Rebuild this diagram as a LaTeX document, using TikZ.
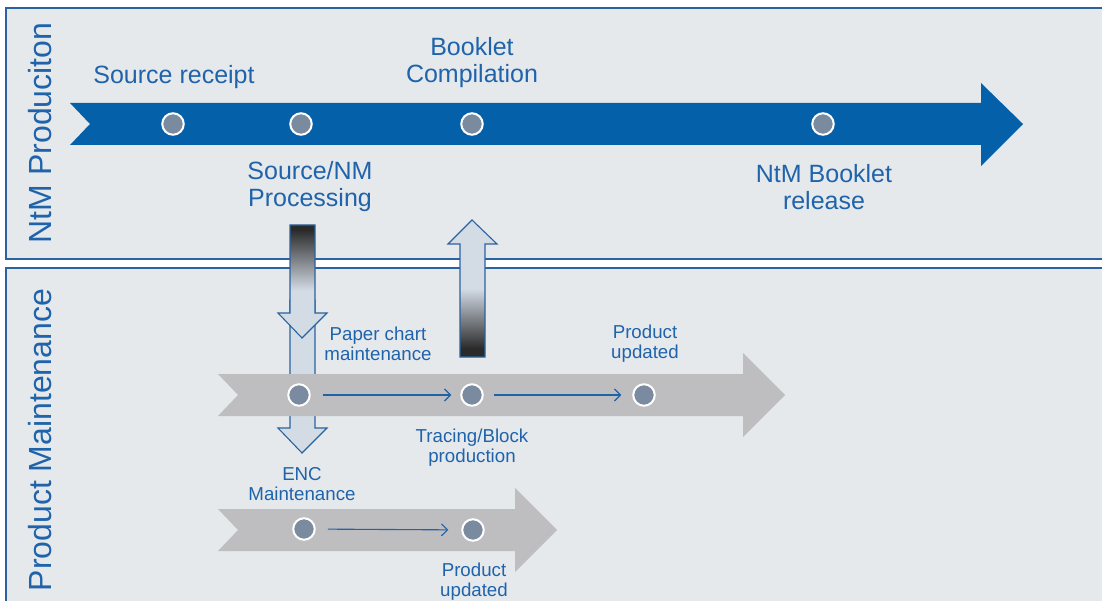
\documentclass[tikz,border=0pt]{standalone}
\usepackage{fontspec}
\setmainfont{Liberation Sans}
\usetikzlibrary{arrows.meta, positioning}
\definecolor{ntmblue}{HTML}{0560AA}
\definecolor{txtblue}{HTML}{1F63AB}
\definecolor{panelfill}{HTML}{E6E9EC}
\definecolor{panelline}{HTML}{2A63A0}
\definecolor{bandgray}{HTML}{BEBEC1}
\definecolor{dotgray}{HTML}{7A8BA0}
\definecolor{paleblue}{HTML}{D3DBE5}
\definecolor{darkshade}{HTML}{2A2A2A}
\pgfdeclareverticalshading{fadedown}{100bp}{color(0bp)=(paleblue); color(46bp)=(paleblue); color(73bp)=(darkshade); color(100bp)=(darkshade)}
\pgfdeclareverticalshading{fadeup}{100bp}{color(0bp)=(darkshade); color(28bp)=(darkshade); color(50bp)=(paleblue); color(100bp)=(paleblue)}
\begin{document}
\begin{tikzpicture}[x=1pt, y=-1pt,
        every node/.style={text=txtblue, align=center},
        big/.style={font=\fontsize{25}{27}\selectfont},
        small/.style={font=\fontsize{18.7}{20}\selectfont},
        lane/.style={font=\fontsize{32}{34}\selectfont, rotate=90},
        panel/.style={fill=panelfill, draw=panelline, line width=1.2pt},
        stop/.style={circle, fill=dotgray, draw=white, line width=2pt, minimum size=21.5pt, inner sep=0pt},
        flow/.style={draw=txtblue, line width=1.1pt, -{Straight Barb[length=6pt,width=12pt]}},
        hollow/.style={draw=panelline, line width=1.1pt}
      ]
      \clip (0,0) rectangle (1102,601);
      \fill[white] (0,0) rectangle (1102,601);

      % Swim lanes
      \draw[panel] (6,8) rectangle (1120,259);
      \draw[panel] (6,268) rectangle (1120,620);
      \node[lane] (lanetop) at (40,133) {NtM Produciton};
      \node[lane] (lanebot) at (40,440) {Product Maintenance};

      % NtM production arrow
      \fill[ntmblue] (70,103) -- (981,103) -- (981,83) -- (1023,124) -- (981,166)
        -- (981,145) -- (70,145) -- (90,124) -- cycle;
      \node[stop] (receipt) at (173,124) {};
      \node[stop] (process) at (301,124) {};
      \node[stop] (compile) at (472,124) {};
      \node[stop] (release) at (823,124) {};
      \node[big] at (174,77) {Source receipt};
      \node[big] at (472,63) {Booklet\\Compilation};
      \node[big] at (310,187) {Source/NM\\Processing};
      \node[big] at (824,187) {NtM Booklet\\release};

      % hand-over arrows between lanes
      \draw[hollow, fill=paleblue] (290,300) -- (315,300) -- (315,428) -- (327,428)
        -- (302,453) -- (278,428) -- (290,428) -- cycle;
      \draw[hollow, shading=fadedown] (290,225) -- (315,225) -- (315,313) -- (327,313)
        -- (302,338) -- (278,313) -- (290,313) -- cycle;
      \draw[hollow, shading=fadeup] (472,220) -- (497,244) -- (485,244) -- (485,357)
        -- (460,357) -- (460,244) -- (448,244) -- cycle;

      % Paper chart band
      \fill[bandgray] (218,374) -- (743,374) -- (743,353) -- (785,395) -- (743,437)
        -- (743,416) -- (218,416) -- (238,395) -- cycle;
      \node[stop] (paper) at (299,395) {};
      \node[stop] (tracing) at (472,395) {};
      \node[stop] (updated) at (644,395) {};
      \draw[flow, shorten <=12pt, shorten >=9pt] (paper) -- (tracing);
      \draw[flow, shorten <=10pt, shorten >=11pt] (tracing) -- (updated);
      \node[small] at (378,344) {Paper chart\\maintenance};
      \node[small] at (645,344) {Product\\updated};
      \node[small] at (472,448) {Tracing/Block\\production};

      % ENC band
      \fill[bandgray] (218,509) -- (515,509) -- (515,488) -- (557,530) -- (515,572)
        -- (515,551) -- (218,551) -- (238,530) -- cycle;
      \node[stop] (enc) at (304,529) {};
      \node[stop] (encdone) at (473,530) {};
      \draw[flow, shorten <=12pt, shorten >=13pt] (enc) -- (encdone);
      \node[small] at (302,484) {ENC\\Maintenance};
      \node[small] at (474,582) {Product\\updated};
    \end{tikzpicture}
\end{document}
